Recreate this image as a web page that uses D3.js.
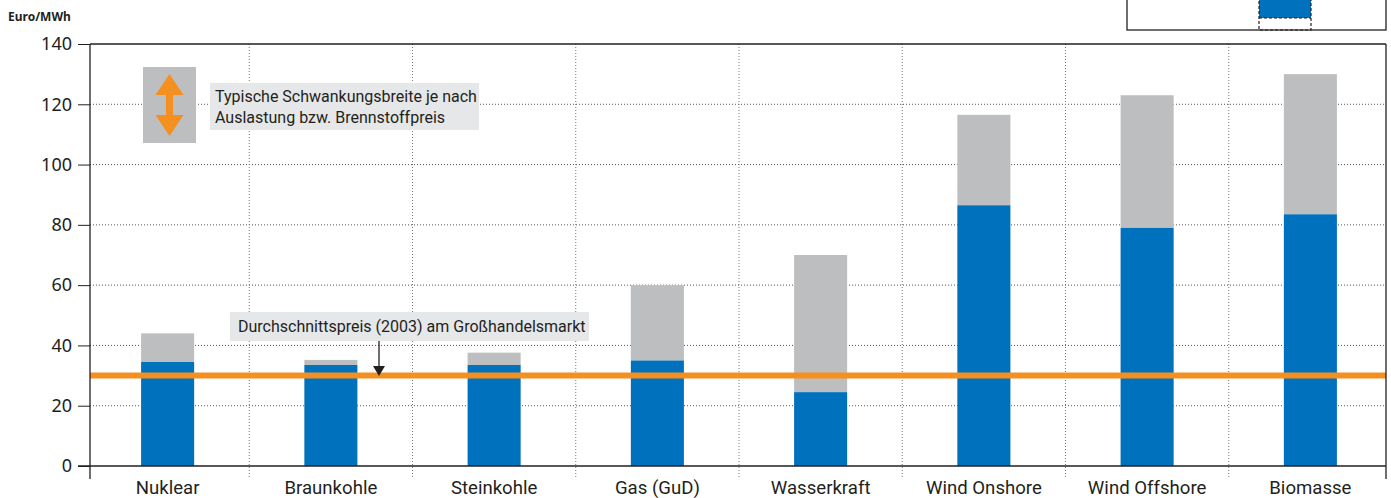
<!DOCTYPE html>
<html>
<head>
<meta charset="utf-8">
<script src="https://cdn.jsdelivr.net/npm/d3@7"></script>
<style>
  body { margin: 0; background: #fff; }
  svg { display: block; }
  .cat text { font-family: Roboto, sans-serif; font-size: 18.6px; fill: #231f20; }
  .ytick text { font-family: "Noto Sans", sans-serif; font-size: 18px; fill: #231f20; }
  .note { font-family: Roboto, sans-serif; font-size: 16px; fill: #231f20; }
</style>
</head>
<body>
<div id="chart"></div>
<script>
// Stromgestehungskosten je Technologie (Euro/MWh)
const categories = ['Nuklear', 'Braunkohle', 'Steinkohle', 'Gas (GuD)', 'Wasserkraft', 'Wind Onshore', 'Wind Offshore', 'Biomasse'];
const baseCost = [34.5, 33.5, 33.5, 35, 24.5, 86.5, 79, 83.5];
const maxCost = [44, 35.2, 37.6, 60, 70, 116.5, 123, 130];
const avgPrice = 30;
const yTicks = [0, 20, 40, 60, 80, 100, 120, 140];

const colours = {
  blue: '#0071bc', grey: '#bdbec0', orange: '#f39020', text: '#231f20', box: '#e6e7e8',
};

const width = 1391;
const height = 498;
const left = 90;
const right = 1386;

const svg = d3.select('#chart').append('svg')
  .attr('width', width)
  .attr('height', height);

const x = d3.scaleBand().domain(categories).range([86, 1392]).padding(0);
const y = d3.scaleLinear().domain([0, 140]).range([466, 44]);
const barWidth = x.bandwidth() * 0.325;

// gridlines
svg.append('g').selectAll('line')
  .data(yTicks.filter(t => t > 0 && t < 140))
  .join('line')
  .attr('x1', left).attr('x2', right)
  .attr('y1', d => y(d)).attr('y2', d => y(d))
  .attr('stroke', '#555')
  .attr('stroke-width', 1)
  .attr('stroke-dasharray', '1,2');

svg.append('g').selectAll('line')
  .data(categories.slice(1))
  .join('line')
  .attr('x1', d => x(d)).attr('x2', d => x(d))
  .attr('y1', y(140)).attr('y2', 479)
  .attr('stroke', '#777')
  .attr('stroke-width', 1)
  .attr('stroke-dasharray', '1,2');

// bars: grey range on top, blue base
const bars = svg.append('g');
bars.selectAll('rect.range')
  .data(categories)
  .join('rect')
  .attr('class', 'range')
  .attr('x', d => x(d) + (x.bandwidth() - barWidth) / 2)
  .attr('width', barWidth)
  .attr('y', (d, i) => y(maxCost[i]))
  .attr('height', (d, i) => y(baseCost[i]) - y(maxCost[i]))
  .attr('fill', colours.grey);

bars.selectAll('rect.base')
  .data(categories)
  .join('rect')
  .attr('class', 'base')
  .attr('x', d => x(d) + (x.bandwidth() - barWidth) / 2)
  .attr('width', barWidth)
  .attr('y', (d, i) => y(baseCost[i]))
  .attr('height', (d, i) => y(0) - y(baseCost[i]))
  .attr('fill', colours.blue);

// average wholesale price line
svg.append('line')
  .attr('x1', left).attr('x2', right)
  .attr('y1', y(avgPrice)).attr('y2', y(avgPrice))
  .attr('stroke', colours.orange)
  .attr('stroke-width', 6);

// frame + axes
const yAxis = svg.append('g')
  .attr('class', 'ytick')
  .attr('transform', `translate(${left},0)`)
  .call(d3.axisLeft(y).tickValues(yTicks).tickSize(12).tickPadding(6));
yAxis.select('.domain').remove();
yAxis.selectAll('line').attr('stroke', '#231f20');

const xAxis = svg.append('g')
  .attr('class', 'cat')
  .attr('transform', `translate(0,${y(0)})`)
  .call(d3.axisBottom(x).tickSize(0).tickPadding(15));
xAxis.select('.domain').remove();

const frame = svg.append('g').attr('stroke', '#231f20').attr('stroke-width', 1.3);
frame.append('line').attr('x1', left).attr('x2', left).attr('y1', y(140)).attr('y2', 479);
frame.append('line').attr('x1', 78).attr('x2', right).attr('y1', y(0)).attr('y2', y(0));
frame.append('line').attr('x1', left).attr('x2', right).attr('y1', y(140)).attr('y2', y(140));
frame.append('line').attr('x1', right).attr('x2', right).attr('y1', y(140)).attr('y2', 479);

svg.append('text')
  .attr('x', 8).attr('y', 21)
  .style('font-family', '"Noto Sans", sans-serif')
  .style('font-size', '12px')
  .style('font-weight', 'bold')
  .attr('fill', colours.text)
  .text('Euro/MWh');

// range note with orange double arrow
svg.append('rect')
  .attr('x', 143).attr('y', 67).attr('width', 53).attr('height', 76)
  .attr('fill', colours.grey);
const ax = 169.5;
svg.append('path')
  .attr('d', `M${ax},74 L${ax + 14},95 L${ax + 3.5},95 L${ax + 3.5},115 L${ax + 14},115 L${ax},136 L${ax - 14},115 L${ax - 3.5},115 L${ax - 3.5},95 L${ax - 14},95 Z`)
  .attr('fill', colours.orange);

svg.append('rect')
  .attr('x', 210).attr('y', 83).attr('width', 269).attr('height', 47)
  .attr('fill', colours.box);
svg.append('text').attr('class', 'note')
  .attr('x', 215).attr('y', 102)
  .text('Typische Schwankungsbreite je nach');
svg.append('text').attr('class', 'note')
  .attr('x', 215).attr('y', 123)
  .text('Auslastung bzw. Brennstoffpreis');

// average price note
svg.append('rect')
  .attr('x', 230).attr('y', 312).attr('width', 359).attr('height', 29)
  .attr('fill', colours.box);
svg.append('text').attr('class', 'note')
  .attr('x', 238).attr('y', 332)
  .text('Durchschnittspreis (2003) am Großhandelsmarkt');
svg.append('line')
  .attr('x1', 379).attr('x2', 379)
  .attr('y1', 341).attr('y2', 366)
  .attr('stroke', colours.text).attr('stroke-width', 1.3);
svg.append('path')
  .attr('d', `M373,366 L385,366 L379,376 Z`)
  .attr('fill', colours.text);

// legend fragment cut by the top edge
svg.append('rect')
  .attr('x', 1127).attr('y', -5).attr('width', 259).attr('height', 35)
  .attr('fill', '#fff').attr('stroke', '#231f20').attr('stroke-width', 1.3);
svg.append('rect')
  .attr('x', 1259).attr('y', -5).attr('width', 52).attr('height', 23)
  .attr('fill', colours.blue);
svg.append('rect')
  .attr('x', 1259).attr('y', -5).attr('width', 52).attr('height', 35)
  .attr('fill', 'none').attr('stroke', '#231f20').attr('stroke-width', 1.2)
  .attr('stroke-dasharray', '3,2');
svg.append('line')
  .attr('x1', 1259).attr('x2', 1311).attr('y1', 18).attr('y2', 18)
  .attr('stroke', '#231f20').attr('stroke-width', 1.2).attr('stroke-dasharray', '3,2');
</script>
</body>
</html>
